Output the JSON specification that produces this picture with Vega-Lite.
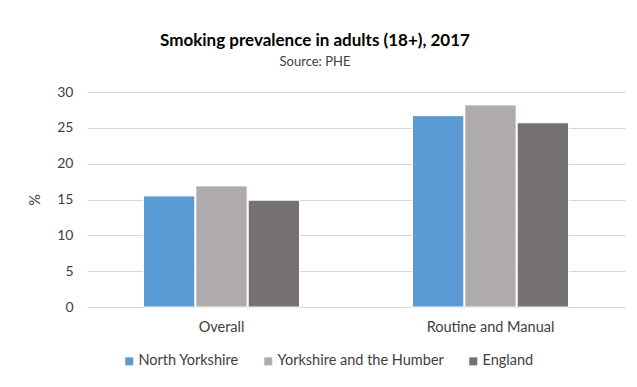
{
  "$schema": "https://vega.github.io/schema/vega-lite/v6.json",
  "autosize": {"type": "none"},
  "width": 538,
  "height": 215,
  "padding": {"left": 87, "top": 92, "right": 12, "bottom": 80},
  "background": "white",
  "config": {
    "font": "Lato",
    "view": {"stroke": null}
  },
  "title": {
    "text": "Smoking prevalence in adults (18+), 2017",
    "subtitle": "Source: PHE",
    "fontSize": 17,
    "fontWeight": "bold",
    "color": "#000000",
    "subtitleFontSize": 13,
    "subtitleColor": "#404040",
    "subtitlePadding": 6,
    "anchor": "middle",
    "dx": -41,
    "offset": 15
  },
  "data": {
    "values": [
      {"category": "Overall", "area": "North Yorkshire", "value": 15.5},
      {"category": "Overall", "area": "Yorkshire and the Humber", "value": 16.9},
      {"category": "Overall", "area": "England", "value": 14.9},
      {"category": "Routine and Manual", "area": "North Yorkshire", "value": 26.7},
      {"category": "Routine and Manual", "area": "Yorkshire and the Humber", "value": 28.2},
      {"category": "Routine and Manual", "area": "England", "value": 25.7}
    ]
  },
  "mark": {"type": "bar", "stroke": "white", "strokeWidth": 1},
  "encoding": {
    "x": {
      "field": "category",
      "type": "nominal",
      "scale": {"paddingInner": 0.42, "paddingOuter": 0.21},
      "axis": {
        "title": null,
        "labelAngle": 0,
        "ticks": false,
        "domain": true,
        "domainColor": "#D9D9D9",
        "labelPadding": 13,
        "labelFontSize": 14.5,
        "labelColor": "#404040"
      }
    },
    "xOffset": {
      "field": "area",
      "type": "nominal",
      "sort": ["North Yorkshire", "Yorkshire and the Humber", "England"],
      "scale": {"paddingInner": 0.02}
    },
    "y": {
      "field": "value",
      "type": "quantitative",
      "scale": {"domain": [0, 30]},
      "axis": {
        "title": "%",
        "titleAngle": -90,
        "titleFontSize": 14.5,
        "titleFontWeight": "normal",
        "titleColor": "#404040",
        "titlePadding": 14,
        "values": [0, 5, 10, 15, 20, 25, 30],
        "ticks": false,
        "domain": false,
        "gridColor": "#D9D9D9",
        "labelPadding": 14,
        "labelFontSize": 14,
        "labelColor": "#404040"
      }
    },
    "color": {
      "field": "area",
      "type": "nominal",
      "sort": ["North Yorkshire", "Yorkshire and the Humber", "England"],
      "scale": {
        "domain": ["North Yorkshire", "Yorkshire and the Humber", "England"],
        "range": ["#5B9BD5", "#AFABAB", "#767171"]
      },
      "legend": {
        "title": null,
        "orient": "none",
        "direction": "horizontal",
        "legendX": 35,
        "legendY": 262,
        "symbolType": "square",
        "symbolSize": 64,
        "symbolStrokeWidth": 0,
        "labelFontSize": 14.5,
        "labelLimit": 0,
        "labelColor": "#404040",
        "columnPadding": 22,
        "labelOffset": 2
      }
    }
  }
}
